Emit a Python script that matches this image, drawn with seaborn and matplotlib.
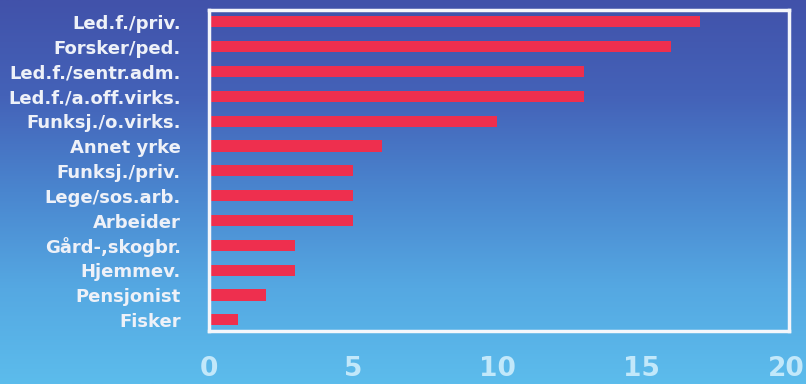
import numpy as np
import matplotlib
matplotlib.use("Agg")
import matplotlib.pyplot as plt
from matplotlib.colors import LinearSegmentedColormap
import seaborn as sns
import pandas as pd

categories = ["Led.f./priv.", "Forsker/ped.", "Led.f./sentr.adm.", "Led.f./a.off.virks.",
              "Funksj./o.virks.", "Annet yrke", "Funksj./priv.", "Lege/sos.arb.",
              "Arbeider", "Gård-,skogbr.", "Hjemmev.", "Pensjonist", "Fisker"]
values = [17, 16, 13, 13, 10, 6, 5, 5, 5, 3, 3, 2, 1]
x_ticks = [0, 5, 10, 15, 20]

df = pd.DataFrame({"yrke": categories, "verdi": values})

sns.set_style("white")
plt.rcParams["font.family"] = ["DejaVu Sans"]

fig = plt.figure(figsize=(8.06, 3.84), dpi=100)

# gradient background
bg = fig.add_axes([0, 0, 1, 1], zorder=0)
grad_cmap = LinearSegmentedColormap.from_list(
    "bg", ["#4152aa", "#4462b8", "#4a86cf", "#55a8e2", "#5cbcec"])
bg.imshow(np.linspace(0, 1, 256).reshape(-1, 1), aspect="auto", cmap=grad_cmap,
          extent=[0, 1, 0, 1], origin="upper")
bg.set_axis_off()

ax = fig.add_axes([0.259, 0.138, 0.72, 0.836], zorder=1)
ax.patch.set_alpha(0)
sns.barplot(data=df, x="verdi", y="yrke", orient="h", color="#ee2f4e",
            saturation=1, width=0.45, linewidth=0, edgecolor="none", ax=ax)

ax.set_xlim(0, 20.1)
ax.set_ylim(12.45, -0.48)
ax.set_xticks(x_ticks)
ax.set_xticklabels([str(t) for t in x_ticks])
ax.set_xlabel("")
ax.set_ylabel("")
for s in ax.spines.values():
    s.set_color("#f4f6fb")
    s.set_linewidth(2.5)
    s.set_visible(True)
ax.tick_params(axis="y", length=0, pad=20, labelsize=13, labelcolor="#eef1f8")
ax.tick_params(axis="x", length=0, pad=18, labelsize=19, labelcolor="#c2e8fa")
for lab in ax.get_yticklabels():
    lab.set_fontweight("bold")
for lab in ax.get_xticklabels():
    lab.set_fontweight("bold")

fig.savefig("out.png", dpi=100)
